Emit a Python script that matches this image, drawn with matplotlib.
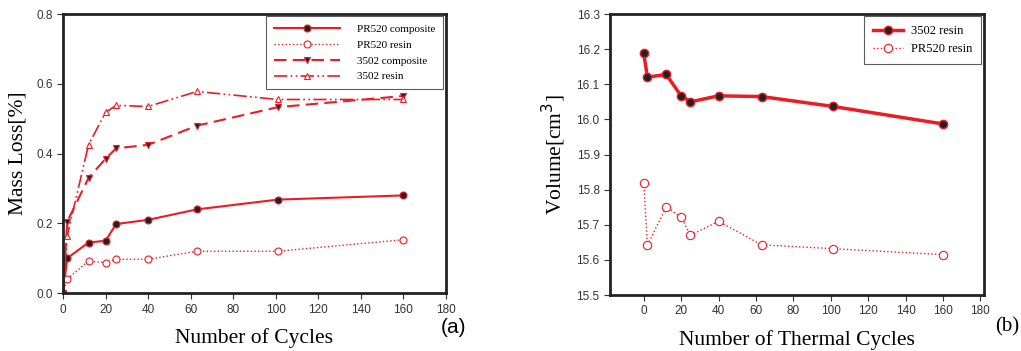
import numpy as np
import matplotlib
matplotlib.use('Agg')
import matplotlib.pyplot as plt

# ---- data ----
cycles = [0, 2, 12, 20, 25, 40, 63, 101, 160]

pr520_comp = [0.0, 0.100, 0.145, 0.150, 0.198, 0.210, 0.240, 0.268, 0.280]
pr520_resin = [0.0, 0.040, 0.092, 0.087, 0.097, 0.097, 0.120, 0.120, 0.153]
c3502_comp = [0.0, 0.205, 0.330, 0.385, 0.415, 0.425, 0.480, 0.533, 0.565]
c3502_resin = [0.0, 0.165, 0.425, 0.518, 0.538, 0.535, 0.578, 0.555, 0.555]

vol_3502 = [16.188, 16.120, 16.128, 16.067, 16.050, 16.067, 16.065, 16.037, 15.987]
vol_pr520 = [15.820, 15.642, 15.750, 15.722, 15.670, 15.710, 15.643, 15.632, 15.615]

RED = '#ec1c24'
SERIF = 'Liberation Serif'
SANS = 'Liberation Sans'

plt.rcParams['font.family'] = SANS

fig = plt.figure(figsize=(10.21, 3.51), dpi=100)
ax1 = fig.add_axes([0.0617, 0.165, 0.375, 0.795])
ax2 = fig.add_axes([0.5975, 0.1595, 0.3663, 0.8006])

def style_axes(ax):
   for s in ax.spines.values():
      s.set_linewidth(2.0)
      s.set_color('#222222')
   ax.tick_params(direction='out', length=4, width=0.8, labelsize=8.5, colors='#333333',
                  top=False, right=False)

# ---- (a) mass loss ----
ax1.plot(cycles, pr520_comp, '-', color=RED, lw=1.5, marker='o', ms=5,
         mfc='#222222', mec=RED, mew=0.8, label='PR520 composite')
ax1.plot(cycles, pr520_resin, ':', color=RED, lw=1.0, marker='o', ms=5,
         mfc='white', mec=RED, mew=0.8, label='PR520 resin')
ax1.plot(cycles, c3502_comp, color=RED, lw=1.5, dashes=(6, 3), marker='v', ms=5,
         mfc='#222222', mec=RED, mew=0.8, label='3502 composite')
ax1.plot(cycles, c3502_resin, color=RED, lw=1.2, dashes=(8, 2, 1, 2, 1, 2), marker='^', ms=5,
         mfc='white', mec=RED, mew=0.8, label='3502 resin')
ax1.set_xlim(0, 180)
ax1.set_ylim(0, 0.8)
ax1.set_xticks(np.arange(0, 181, 20))
ax1.set_yticks(np.arange(0, 0.81, 0.2))
ax1.set_yticklabels(['0.0', '0.2', '0.4', '0.6', '0.8'])
style_axes(ax1)
ax1.set_xlabel('Number of Cycles', family=SERIF, fontsize=15.5, labelpad=9)
ax1.set_ylabel('Mass Loss[%]', family=SERIF, fontsize=15.5, labelpad=6)
leg1 = ax1.legend(loc='upper right', prop={'family': SERIF, 'size': 8}, frameon=True,
                  fancybox=False, edgecolor='#333333', handlelength=6.0, borderpad=0.7,
                  labelspacing=0.55, handletextpad=1.5, borderaxespad=0,
                  bbox_to_anchor=(0.993, 0.992))
leg1.get_frame().set_linewidth(0.8)
fig.text(0.432, 0.068, '(a)', fontsize=15, family=SANS, ha='left', va='center')

# ---- (b) volume ----
ax2.plot(cycles, vol_3502, '-', color=RED, lw=2.5, marker='o', ms=6,
         mfc='#222222', mec=RED, mew=1.0, label='3502 resin')
ax2.plot(cycles, vol_pr520, ':', color=RED, lw=1.0, marker='o', ms=6,
         mfc='white', mec=RED, mew=0.8, label='PR520 resin')
ax2.set_xlim(-18, 182)
ax2.set_ylim(15.5, 16.3)
ax2.set_xticks(np.arange(0, 181, 20))
ax2.set_yticks(np.arange(15.5, 16.31, 0.1))
ax2.set_yticklabels(['%.1f' % v for v in np.arange(15.5, 16.31, 0.1)])
style_axes(ax2)
ax2.set_xlabel('Number of Thermal Cycles', family=SERIF, fontsize=15.5, labelpad=9)
ax2.set_ylabel('Volume[cm$^3$]', family=SERIF, fontsize=15.5, labelpad=6)
leg2 = ax2.legend(loc='upper right', prop={'family': SERIF, 'size': 9}, frameon=True,
                  fancybox=False, edgecolor='#333333', handlelength=2.4, borderpad=0.7,
                  labelspacing=0.5, handletextpad=0.7, borderaxespad=0,
                  bbox_to_anchor=(0.993, 0.992))
leg2.get_frame().set_linewidth(0.8)
fig.text(0.975, 0.068, '(b)', fontsize=15, family=SERIF, ha='left', va='center')

fig.savefig('out.png', dpi=100)
